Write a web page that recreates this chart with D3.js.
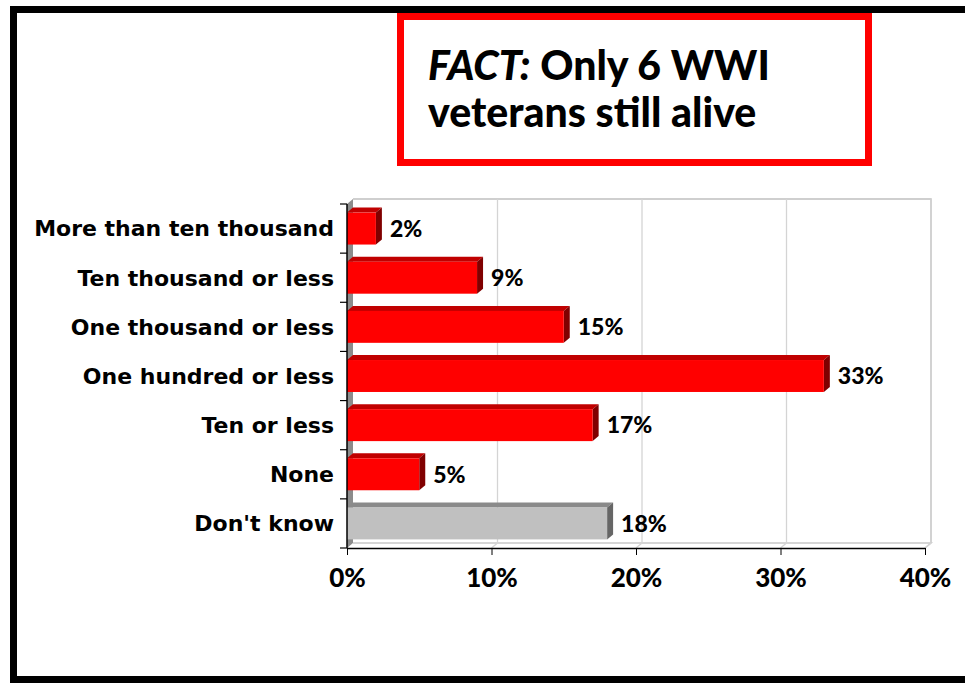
<!DOCTYPE html>
<html lang="en">
<head>
<meta charset="utf-8">
<title>WWI veterans</title>
<script src="https://cdn.jsdelivr.net/npm/d3@7"></script>
<style>
  body { margin: 0; background: #fff; }
  svg text { font-family: Futura, "Century Gothic", Lato, sans-serif; font-weight: 900; fill: #000; }
  svg text.cat { font-family: "DejaVu Sans", sans-serif; font-weight: bold; }
  .axis path, .axis line { stroke: #000; }
</style>
</head>
<body>
<script>
// answers, top to bottom
var categories = ["More than ten thousand", "Ten thousand or less", "One thousand or less",
                  "One hundred or less", "Ten or less", "None", "Don't know"];
var values = [2, 9, 15, 33, 17, 5, 18];
var xTicks = [0, 10, 20, 30, 40];
var titleLines = ["Only 6 WWI", "veterans still alive"];

var width = 965, height = 683;
var plotLeft = 347, plotRight = 925, plotTop = 204, plotBottom = 548;
var dx = 6, dy = -5;   // depth of the 3d look

var svg = d3.select("body").append("svg")
    .attr("width", width)
    .attr("height", height);

// outer black frame (right side runs off the picture)
svg.append("rect")
    .attr("x", 13.5).attr("y", 9.5)
    .attr("width", 980).attr("height", 670)
    .attr("fill", "none")
    .attr("stroke", "#000")
    .attr("stroke-width", 7);

var x = d3.scaleLinear().domain([0, 40]).range([plotLeft, plotRight]);
var y = d3.scaleBand().domain(categories).range([plotTop, plotBottom])
    .paddingInner(0.35).paddingOuter(0.175);

// back wall + floor
svg.append("path")
    .attr("d", "M" + (plotLeft + dx) + "," + (plotTop + dy) + "H" + (plotRight + dx) + "V" + (plotBottom + dy))
    .attr("fill", "none").attr("stroke", "#c0c0c0").attr("stroke-width", 1.5);
svg.append("path")
    .attr("d", "M" + (plotLeft + dx) + "," + (plotBottom + dy) + "H" + (plotRight + dx) + "L" + plotRight + "," + plotBottom)
    .attr("fill", "none").attr("stroke", "#c8c8c8").attr("stroke-width", 1.5);

// grid lines on back wall and floor
xTicks.slice(1).forEach(function(t) {
  svg.append("line")
      .attr("x1", x(t) + dx).attr("x2", x(t) + dx)
      .attr("y1", plotTop + dy).attr("y2", plotBottom + dy)
      .attr("stroke", "#d4d4d4").attr("stroke-width", 1.3);
  svg.append("line")
      .attr("x1", x(t)).attr("x2", x(t) + dx)
      .attr("y1", plotBottom).attr("y2", plotBottom + dy)
      .attr("stroke", "#d4d4d4").attr("stroke-width", 1.3);
});

// left wall
svg.append("polygon")
    .attr("points", [[plotLeft, plotTop], [plotLeft + dx, plotTop + dy],
                     [plotLeft + dx, plotBottom + dy], [plotLeft, plotBottom]].join(" "))
    .attr("fill", "#8c8c8c");

// bars
var bars = svg.selectAll("g.bar")
    .data(categories.map(function(c, i) { return {cat: c, v: values[i], dk: c == "Don't know"}; }))
    .enter().append("g").attr("class", "bar");

bars.append("polygon")   // top face
    .attr("points", function(d) {
      var y0 = y(d.cat), x0 = x(0), x1 = x(d.v);
      return [[x0, y0], [x1, y0], [x1 + dx, y0 + dy], [x0 + dx, y0 + dy]].join(" ");
    })
    .attr("fill", function(d) { return d.dk ? "#8a8a8a" : "#c00000"; });

bars.append("polygon")   // side face
    .attr("points", function(d) {
      var y0 = y(d.cat), y1 = y0 + y.bandwidth(), x1 = x(d.v);
      return [[x1, y0], [x1 + dx, y0 + dy], [x1 + dx, y1 + dy], [x1, y1]].join(" ");
    })
    .attr("fill", function(d) { return d.dk ? "#666666" : "#800000"; });

bars.append("rect")      // front face
    .attr("x", x(0))
    .attr("y", function(d) { return y(d.cat); })
    .attr("width", function(d) { return x(d.v) - x(0); })
    .attr("height", y.bandwidth())
    .attr("fill", function(d) { return d.dk ? "#c0c0c0" : "#ff0000"; });

bars.append("text")
    .attr("x", function(d) { return x(d.v) + dx + 8; })
    .attr("y", function(d) { return y(d.cat) + y.bandwidth() / 2; })
    .attr("dy", "0.36em")
    .style("font-size", "23px")
    .text(function(d) { return d.v + "%"; });

// x axis
svg.append("g")
    .attr("class", "axis")
    .attr("transform", "translate(0," + plotBottom + ")")
    .call(d3.axisBottom(x).tickValues(xTicks).tickSize(7).tickSizeOuter(0).tickPadding(10)
            .tickFormat(function(d) { return d + "%"; }))
    .call(function(g) {
      g.selectAll("text").style("font-size", "26px").attr("dy", "0.85em");
      g.select(".domain").attr("stroke-width", 1.5);
    });

// y axis: line, ticks on band edges, centred labels
svg.append("line")
    .attr("x1", plotLeft).attr("x2", plotLeft).attr("y1", plotTop).attr("y2", plotBottom)
    .attr("stroke", "#000").attr("stroke-width", 1.5);
d3.range(categories.length + 1).forEach(function(i) {
  var yy = plotTop + i * y.step();
  svg.append("line")
      .attr("x1", plotLeft - 7).attr("x2", plotLeft)
      .attr("y1", yy).attr("y2", yy)
      .attr("stroke", "#000").attr("stroke-width", 1.2);
});
svg.selectAll("text.cat")
    .data(categories)
    .enter().append("text")
    .attr("class", "cat")
    .attr("x", plotLeft - 13)
    .attr("y", function(d) { return y(d) + y.bandwidth() / 2; })
    .attr("dy", "0.36em")
    .attr("text-anchor", "end")
    .style("font-size", "22px")
    .text(function(d) { return d; });

// title box
svg.append("rect")
    .attr("x", 400.5).attr("y", 16.5)
    .attr("width", 468).attr("height", 146)
    .attr("fill", "#fff")
    .attr("stroke", "#ff0000")
    .attr("stroke-width", 7);

var t1 = svg.append("text").attr("x", 428).attr("y", 80).style("font-size", "41px");
t1.append("tspan").style("font-style", "italic").text("FACT:");
t1.append("tspan").text(" " + titleLines[0]);
svg.append("text").attr("x", 428).attr("y", 127).style("font-size", "41px").text(titleLines[1]);
</script>
</body>
</html>
